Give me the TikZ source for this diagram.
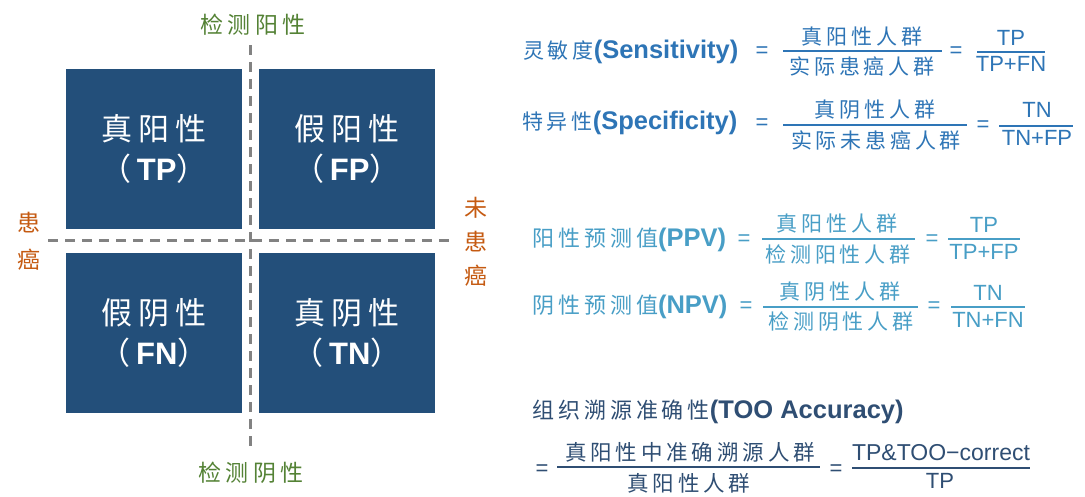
\documentclass[tikz,border=0pt]{standalone}
\usepackage{fontspec}
\setmainfont{Liberation Sans}
\newfontfamily\cjk[LetterSpace=18]{Noto Sans CJK SC}
\newcommand\zhs[1]{{\cjk\mdseries #1}}
\definecolor{cellblue}{RGB}{35,79,122}
\definecolor{sensblue}{RGB}{46,117,182}
\definecolor{ppvblue}{RGB}{72,158,198}
\definecolor{tooblue}{RGB}{47,78,115}
\definecolor{posgreen}{RGB}{84,130,53}
\definecolor{canorange}{RGB}{197,90,17}
\definecolor{dashgray}{RGB}{130,130,130}
\tikzset{
  cell/.style={fill=cellblue, minimum width=176pt, minimum height=160pt, inner sep=0pt,
    text=white, align=center, font=\fontsize{31pt}{40pt}\selectfont},
  axislbl/.style={inner sep=0pt, font=\fontsize{23pt}{27pt}\selectfont\cjk},
  fzh/.style={inner sep=0pt, font=\fontsize{21pt}{25pt}\selectfont\cjk},
  flat/.style={inner sep=0pt, font=\fontsize{22pt}{26pt}\selectfont},
  flbl/.style={inner sep=0pt, anchor=west, font=\fontsize{25.5pt}{30pt}\selectfont\bfseries},
  fbar/.style={line width=2pt},
  divider/.style={dashgray, line width=3pt, dash pattern=on 10pt off 7pt}
}
\begin{document}
\begin{tikzpicture}[x=1pt,y=-1pt]
\useasboundingbox[fill=white] (0,0) rectangle (1085,496);
% dividers
\coordinate (vtop) at (250,45);
\coordinate (vbot) at (250,452);
\coordinate (hleft) at (48,240);
\coordinate (hright) at (449,240);
\draw[divider] (vtop) -- (vbot);
\draw[divider] (hleft) -- (hright);
% cells
\node[cell] (tp) at (154,149) {\zhs{真阳性}\\\zhs{（}\textbf{TP}\zhs{）}};
\node[cell] (fp) at (347,149) {\zhs{假阳性}\\\zhs{（}\textbf{FP}\zhs{）}};
\node[cell] (fn) at (154,332.5) {\zhs{假阴性}\\\zhs{（}\textbf{FN}\zhs{）}};
\node[cell] (tn) at (347,332.5) {\zhs{真阴性}\\\zhs{（}\textbf{TN}\zhs{）}};
% axis labels
\node[axislbl, text=posgreen] (testpos) at (253,25) {检测阳性};
\node[axislbl, text=posgreen] (testneg) at (251,473) {检测阴性};
\node[axislbl, text=canorange] (lc1) at (29,223) {患};
\node[axislbl, text=canorange] (lc2) at (29,260) {癌};
\node[axislbl, text=canorange] (rc1) at (476,208) {未};
\node[axislbl, text=canorange] (rc2) at (476,242) {患};
\node[axislbl, text=canorange] (rc3) at (476,276) {癌};
% sensitivity
\begin{scope}[sensblue]
\node[flbl, text=sensblue] (senl) at (523,52) {\zhs{\fontsize{21pt}{25pt}\selectfont 灵敏度}(Sensitivity)};
\node[flat, text=sensblue] (seneq1) at (762,52) {=};
\node[fzh, text=sensblue] (sennum) at (862,37) {真阳性人群};
\node[fzh, text=sensblue] (senden) at (862,66) {实际患癌人群};
\draw[fbar] (783,51) -- (942,51);
\node[flat, text=sensblue] (seneq2) at (956,52) {=};
\node[flat, text=sensblue] (sentp) at (1011,38) {TP};
\node[flat, text=sensblue] (sentot) at (1011,64) {TP+FN};
\draw[fbar] (977,52) -- (1045,52);
% specificity
\node[flbl, text=sensblue] (spel) at (522,123) {\zhs{\fontsize{21pt}{25pt}\selectfont 特异性}(Specificity)};
\node[flat, text=sensblue] (speeq1) at (762,124) {=};
\node[fzh, text=sensblue] (spenum) at (875,110) {真阴性人群};
\node[fzh, text=sensblue] (speden) at (876,140) {实际未患癌人群};
\draw[fbar] (783,125) -- (967,125);
\node[flat, text=sensblue] (speeq2) at (983,126) {=};
\node[flat, text=sensblue] (spetn) at (1037,110) {TN};
\node[flat, text=sensblue] (spetot) at (1037,138) {TN+FP};
\draw[fbar] (999,126) -- (1073,126);
\end{scope}
% PPV
\begin{scope}[ppvblue]
\node[flbl, text=ppvblue] (ppvl) at (532,240) {\zhs{\fontsize{22pt}{26pt}\selectfont 阳性预测值}(PPV)};
\node[flat, text=ppvblue] (ppveq1) at (744,240) {=};
\node[fzh, text=ppvblue] (ppvnum) at (837,224) {真阳性人群};
\node[fzh, text=ppvblue] (ppvden) at (838,254) {检测阳性人群};
\draw[fbar] (762,239) -- (915,239);
\node[flat, text=ppvblue] (ppveq2) at (932,240) {=};
\node[flat, text=ppvblue] (ppvtp) at (984,225) {TP};
\node[flat, text=ppvblue] (ppvtot) at (984,252) {TP+FP};
\draw[fbar] (948,239) -- (1020,239);
% NPV
\node[flbl, text=ppvblue] (npvl) at (532,307) {\zhs{\fontsize{22pt}{26pt}\selectfont 阴性预测值}(NPV)};
\node[flat, text=ppvblue] (npveq1) at (746,307) {=};
\node[fzh, text=ppvblue] (npvnum) at (840,292) {真阴性人群};
\node[fzh, text=ppvblue] (npvden) at (841,322) {检测阴性人群};
\draw[fbar] (763,307) -- (918,307);
\node[flat, text=ppvblue] (npveq2) at (934,307) {=};
\node[flat, text=ppvblue] (npvtn) at (988,293) {TN};
\node[flat, text=ppvblue] (npvtot) at (988,320) {TN+FN};
\draw[fbar] (951,307) -- (1025,307);
\end{scope}
% TOO accuracy
\begin{scope}[tooblue]
\node[flbl, text=tooblue] (tool) at (532,412) {\zhs{\fontsize{22pt}{26pt}\selectfont 组织溯源准确性}(TOO Accuracy)};
\node[flat, text=tooblue] (tooeq1) at (542,470) {=};
\node[fzh, text=tooblue, font=\fontsize{21.5pt}{25pt}\selectfont\cjk] (toonum) at (690,452) {真阳性中准确溯源人群};
\node[fzh, text=tooblue, font=\fontsize{21.5pt}{25pt}\selectfont\cjk] (tooden) at (689,483) {真阳性人群};
\draw[fbar] (557,467) -- (820,467);
\node[flat, text=tooblue] (tooeq2) at (836,470) {=};
\node[flat, text=tooblue, font=\fontsize{23pt}{27pt}\selectfont] (tootp) at (941,453) {TP\&TOO\textminus correct};
\node[flat, text=tooblue] (tootot) at (940,481) {TP};
\draw[fbar] (852,468) -- (1030,468);
\end{scope}
\end{tikzpicture}
\end{document}
